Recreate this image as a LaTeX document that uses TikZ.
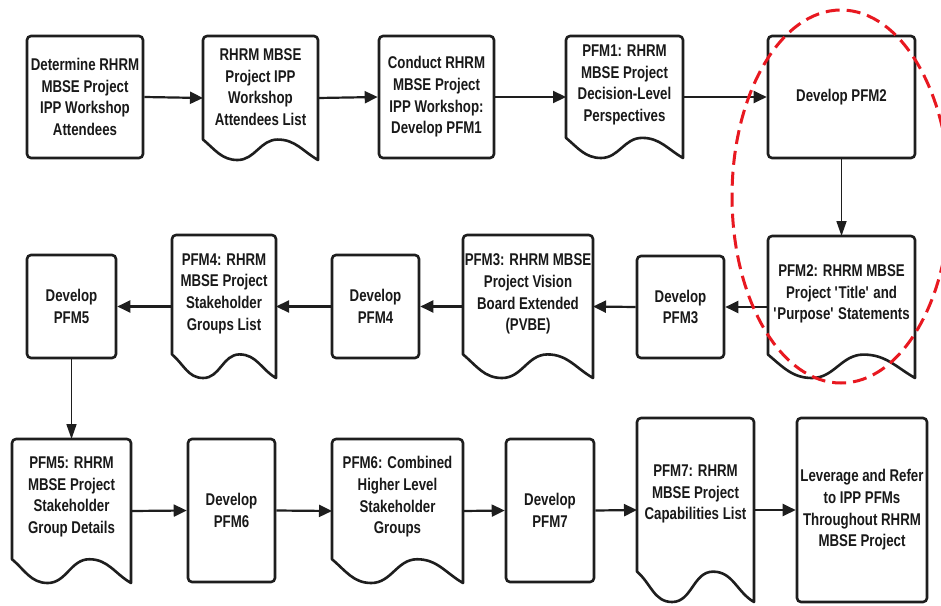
\documentclass[tikz,border=0pt]{standalone}
\usepackage{fontspec}
\setmainfont{Liberation Sans}[FakeStretch=0.78]
\usetikzlibrary{arrows.meta,calc}

\definecolor{inkline}{RGB}{30,30,30}
\definecolor{inktext}{RGB}{25,25,25}
\definecolor{ringred}{RGB}{232,24,32}

% Outline of a document shape: rounded top corners, wavy bottom edge.
\newcommand\docoutline[1]{%
  \draw[docline] let \p1=(#1.south west), \p2=(#1.north east),
      \n1={\x2-\x1}, \n2={0.165*(\y2-\y1)} in
    (\x1,\y1+\n2) -- (\x1,\y2-4pt)
    arc[start angle=180,end angle=90,radius=4pt]
    -- (\x2-4pt,\y2)
    arc[start angle=90,end angle=0,radius=4pt]
    -- (\x2,\y1)
    to[out=150,in=0] (\x1+0.65*\n1,\y1+\n2)
    to[out=180,in=0] (\x1+0.3*\n1,\y1)
    to[out=180,in=-40] (\x1,\y1+\n2) -- cycle;}

\begin{document}
\begin{tikzpicture}[x=1pt,y=-1pt,
  every node/.style={font=\bfseries\fontsize{17}{21.7}\selectfont, text=inktext},
  procbox/.style={draw=inkline, line width=2.6pt, rounded corners=4pt,
    inner sep=0pt, align=center},
  docbox/.style={inner sep=0pt, outer sep=0pt},
  doctext/.style={inner sep=0pt, align=center},
  docline/.style={draw=inkline, line width=2.6pt, line join=round},
  arr/.style={draw=inkline, line width=2.2pt,
    -{Triangle[length=13pt,width=12pt]}},
  downarr/.style={draw=inkline, line width=1.7pt,
    -{Triangle[length=15pt,width=10pt]}},
  redring/.style={draw=ringred, line width=3pt, dash pattern=on 14pt off 7pt}]

\fill[white] (0,0) rectangle (941,605);
\useasboundingbox (0,0) rectangle (941,605);

% ---- first row ----
\node[procbox, minimum width=116, minimum height=122] (A) at (85,97)
  {Determine RHRM\\MBSE Project\\IPP Workshop\\Attendees};
\node[docbox, minimum width=115, minimum height=124] (B) at (260.5,98) {};
\node[doctext] (Bt) at ([yshift=11pt]B.center)
  {RHRM MBSE\\Project IPP\\Workshop\\Attendees List};
\node[procbox, minimum width=115, minimum height=122] (C) at (436.5,97)
  {Conduct RHRM\\MBSE Project\\IPP Workshop:\\Develop PFM1};
\node[docbox, minimum width=117, minimum height=122] (D) at (624.5,97) {};
\node[doctext] (Dt) at ([yshift=12pt]D.center)
  {PFM1: RHRM\\MBSE Project\\Decision-Level\\Perspectives};
\node[procbox, minimum width=147, minimum height=122] (E) at (841.5,97)
  {Develop PFM2};

% ---- second row ----
\node[docbox, minimum width=147, minimum height=142] (F) at (841.5,307) {};
\node[doctext] (Ft) at ([yshift=13pt]F.center)
  {PFM2: RHRM MBSE\\Project \textquotesingle Title\textquotesingle{} and\\\textquotesingle Purpose\textquotesingle{} Statements};
\node[procbox, minimum width=87, minimum height=102] (G) at (680.5,307)
  {Develop\\PFM3};
\node[docbox, minimum width=130, minimum height=143] (H) at (528,306.5) {};
\node[doctext] (Ht) at ([yshift=12.5pt]H.center)
  {PFM3: RHRM MBSE\\Project Vision\\Board Extended\\(PVBE)};
\node[procbox, minimum width=87, minimum height=103] (I) at (375.5,306.5)
  {Develop\\PFM4};
\node[docbox, minimum width=104, minimum height=143] (J) at (224,306.5) {};
\node[doctext] (Jt) at ([yshift=13pt]J.center)
  {PFM4: RHRM\\MBSE Project\\Stakeholder\\Groups List};
\node[procbox, minimum width=89, minimum height=103] (K) at (71.5,306.5)
  {Develop\\PFM5};

% ---- third row ----
\node[docbox, minimum width=119, minimum height=144] (L) at (71.5,511) {};
\node[doctext] (Lt) at ([yshift=14pt]L.center)
  {PFM5: RHRM\\MBSE Project\\Stakeholder\\Group Details};
\node[procbox, minimum width=87, minimum height=143] (M) at (231.5,510.5)
  {Develop\\PFM6};
\node[docbox, minimum width=131, minimum height=144] (N) at (397.5,511) {};
\node[doctext] (Nt) at ([yshift=14pt]N.center)
  {PFM6: Combined\\Higher Level\\Stakeholder\\Groups};
\node[procbox, minimum width=88, minimum height=143] (O) at (550,510.5)
  {Develop\\PFM7};
\node[docbox, minimum width=117, minimum height=184] (P) at (695.5,510) {};
\node[doctext] (Pt) at ([yshift=16pt]P.center)
  {PFM7: RHRM\\MBSE Project\\Capabilities List};
\node[procbox, minimum width=130, minimum height=184] (Q) at (862,510)
  {Leverage and Refer\\to IPP PFMs\\Throughout RHRM\\MBSE Project};

% document outlines
\docoutline{B}
\docoutline{D}
\docoutline{F}
\docoutline{H}
\docoutline{J}
\docoutline{L}
\docoutline{N}
\docoutline{P}

% connectors
\draw[arr] (A.east) -- (B.west);
\draw[arr] (B.east) -- (C.west);
\draw[arr] (C.east) -- (D.west);
\draw[arr] (D.east) -- (E.west);
\draw[downarr] (E.south) -- (F.north);
\draw[arr] (F.west) -- (G.east);
\draw[arr] (G.west) -- (H.east);
\draw[arr] (H.west) -- (I.east);
\draw[arr] (I.west) -- (J.east);
\draw[arr] (J.west) -- (K.east);
\draw[downarr] (K.south) -- (L.north);
\draw[arr] (L.east) -- (M.west);
\draw[arr] (M.east) -- (N.west);
\draw[arr] (N.east) -- (O.west);
\draw[arr] (O.east) -- (P.west);
\draw[arr] (P.east) -- (Q.west);

% highlight ring around the PFM2 steps
\begin{scope}
  \clip (0,0) rectangle (941,605);
  \draw[redring] (841,196.5) ellipse[x radius=109, y radius=186.5];
\end{scope}
\end{tikzpicture}
\end{document}
